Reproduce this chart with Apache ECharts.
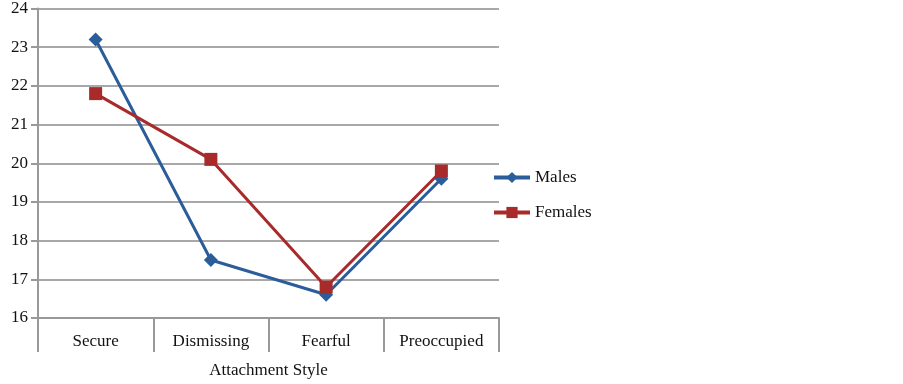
<!DOCTYPE html>
<html>
<head>
<meta charset="utf-8">
<script src="https://cdn.jsdelivr.net/npm/echarts@6/dist/echarts.min.js"></script>
<style>
  html, body { margin: 0; padding: 0; background: #fff; }
  #chart { width: 903px; height: 384px; }
</style>
</head>
<body>
<div id="chart"></div>
<script>
const categories = ['Secure', 'Dismissing', 'Fearful', 'Preoccupied'];
const males = [23.2, 17.5, 16.6, 19.6];
const females = [21.8, 20.1, 16.8, 19.8];

const chart = echarts.init(document.getElementById('chart'));
const font = 'Liberation Serif';

chart.setOption({
  animation: false,
  textStyle: { fontFamily: font },
  grid: { left: 38, right: 404, top: 8, bottom: 64 },
  legend: {
    orient: 'vertical',
    left: 492,
    top: 169,
    padding: 0,
    itemWidth: 36,
    itemHeight: 14,
    itemGap: 18,
    lineStyle: { width: 4 },
    textStyle: { fontFamily: font, fontSize: 17, color: '#111' },
    data: ['Males', 'Females']
  },
  xAxis: {
    type: 'category',
    data: categories,
    boundaryGap: true,
    name: 'Attachment Style',
    nameLocation: 'middle',
    nameGap: 44,
    nameTextStyle: { fontFamily: font, fontSize: 17, color: '#111' },
    axisLine: { lineStyle: { color: '#999', width: 2 } },
    axisTick: { show: true, length: 34, lineStyle: { color: '#999', width: 2 } },
    axisLabel: { fontFamily: font, fontSize: 17, color: '#111', margin: 15 }
  },
  yAxis: {
    type: 'value',
    min: 16,
    max: 24,
    interval: 1,
    axisLine: { show: true, lineStyle: { color: '#999', width: 2 } },
    axisTick: { show: true, length: 7, lineStyle: { color: '#999', width: 2 } },
    axisLabel: { fontFamily: font, fontSize: 17, color: '#111', margin: 10 },
    splitLine: { show: true, lineStyle: { color: '#a8a8a8', width: 2 } }
  },
  series: [
    {
      name: 'Males',
      type: 'line',
      data: males,
      symbol: 'diamond',
      symbolSize: 14,
      lineStyle: { color: '#2b5d9b', width: 3 },
      itemStyle: { color: '#2b5d9b' }
    },
    {
      name: 'Females',
      type: 'line',
      data: females,
      symbol: 'rect',
      symbolSize: 13,
      lineStyle: { color: '#a82a2a', width: 3 },
      itemStyle: { color: '#a82a2a' }
    }
  ]
});
</script>
</body>
</html>
